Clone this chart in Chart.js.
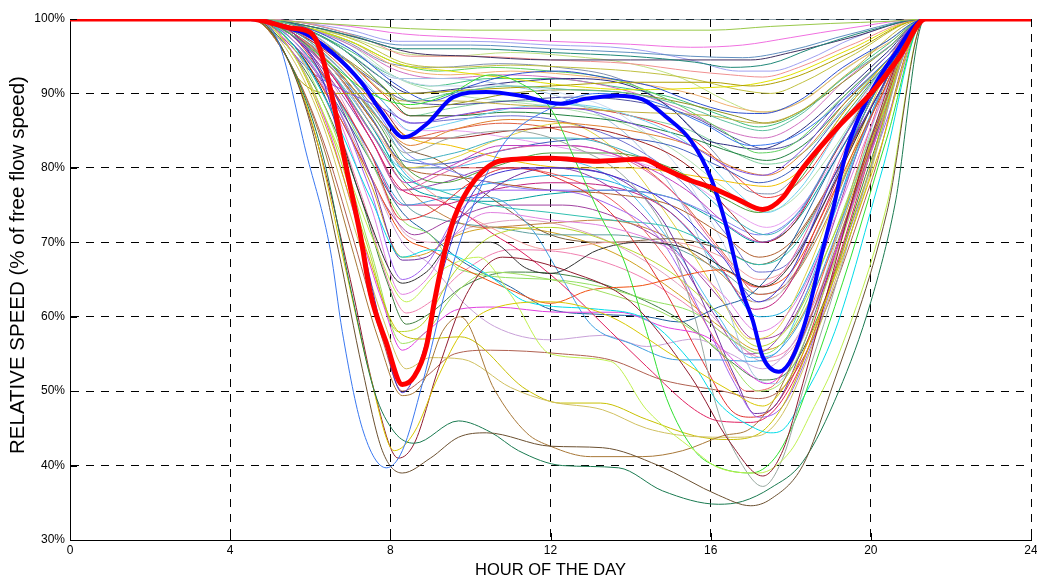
<!DOCTYPE html>
<html><head><meta charset="utf-8">
<script src="https://cdn.jsdelivr.net/npm/chart.js@4.4.1/dist/chart.umd.min.js"></script>
<style>html,body{margin:0;padding:0;background:#fff}#wrap{width:1037px;height:581px;position:relative}</style>
</head><body><div id="wrap"><canvas id="c"></canvas></div>
<script>
// ---- tick labels ----
const xTickValues = [0, 4, 8, 12, 16, 20, 24];
const yTickValues = [30, 40, 50, 60, 70, 80, 90, 100];
const xTitle = 'HOUR OF THE DAY';
const yTitle = 'RELATIVE SPEED (% of free flow speed)';

// ---- thick average series [hour, % of free flow speed] ----
const redSeries = [[0,100],[4.5,100],[5.5,98.8],[6,98.2],[6.25,95.8],[6.57,89],[6.9,80],[7.25,71],[7.5,63.2],[7.9,56.5],[8.3,50.9],[8.6,52],[8.9,56],[9.1,62],[9.35,68.5],[9.6,73.3],[10.1,78.3],[10.8,81],[12,81.3],[13.2,80.9],[14.3,81.2],[14.8,80],[15.5,78.3],[16,77.4],[16.7,75.7],[17.3,74.4],[17.8,76],[18.25,79.6],[19.2,85.6],[20,90],[20.7,94.8],[21.37,100],[24,100]];
const blueSeries = [[0,100],[4.5,100],[5.5,98.7],[5.85,98.1],[6.5,95.7],[7.3,91.3],[7.75,87.7],[8.33,84.1],[8.93,86],[9.57,89.5],[10.4,90.2],[11.25,89.7],[12.25,88.6],[12.9,89.3],[13.65,89.7],[14.3,89.2],[14.9,86.8],[15.5,83.7],[16,78.7],[16.4,72],[16.8,63.2],[17.05,59.5],[17.3,54.6],[17.7,52.6],[18.05,54.6],[18.4,60],[18.8,69],[19.06,74.5],[19.4,82.4],[19.9,89.1],[20.55,94.9],[21.37,100],[24,100]];
const flatSeries = [[0,100],[24,100]];

// ---- individual links (thin lines) ----
const thinColors = ['#3a78f0','#6b5030','#1a7a50','#d8c800','#901c30','#c0f050','#98a8a0','#30e030','#00dce8','#a87838',
  '#4030d0','#d0c060','#c8c000','#e040e0','#a0e060','#b8d830','#303030','#e080e0','#a060f0','#7030a0',
  '#e03030','#e02060','#40a0e0','#c8a0d8','#b06050','#f05010','#90e060','#2060a0','#f0a0a0','#60c0a0',
  '#98c848','#f070e0','#208878','#403060','#f09090','#b0a000','#8050e0','#3050d0','#e0e000','#c0b040',
  '#e08030','#40b0c0','#c040c0','#70d0f0','#50a040','#a02020','#8080f0','#e060a0','#208040','#f0c000',
  '#4060c0','#60d060','#b06030','#c8d8f0','#a0c0e0','#30c0b0','#f04040','#909020','#e8a0f0','#806040',
  '#00a0a0','#c02080','#2c2c80','#e0d040','#50c0f0','#f06060','#9040b0',
  '#6090c0','#c0c040','#d070c0','#40c080','#a0a0f0','#f0b070','#5050a0','#80d0a0','#e06040','#7070d0',
  '#b0e0b0','#c08040','#20b0e0','#a040a0','#60a0a0','#d0a020','#e0a0c0','#408040','#f080b0','#8090b0','#c0e080'];
const thinSeries = [
  [[4.5,100],[5.2,97],[5.9,82],[6.5,69],[6.8,58],[7.3,45],[7.9,39.7],[8.3,42],[8.8,51],[9.4,64],[10,74],[10.8,83],[12,88],[13.2,90],[14.5,89],[15.8,86],[17,83],[18,84],[19.3,89],[20.5,95],[21.35,100]],
  [[4.5,100],[5.3,96],[6,86],[6.7,69],[7.3,53],[7.8,42],[8.3,39],[9,41],[9.7,43.8],[10.4,44.4],[12,42.6],[13.3,42.4],[14.7,40],[16.2,36],[17,34.6],[17.5,35.5],[18.3,40],[19,50],[20.4,74],[21.35,100]],
  [[4.6,100],[5.5,94],[6.3,82],[7,64],[7.6,50],[8.1,44.5],[8.6,43],[9.7,46],[10.5,44.5],[11.2,42],[12.3,40],[13.7,39.7],[14.8,36.6],[16.2,34.8],[16.8,35.2],[17.5,37],[18.3,40.5],[19.2,50],[20,62],[20.6,75],[21.35,100]],
  [[4.5,100],[5.3,96],[6.1,85],[6.9,66],[7.5,52],[8.1,42],[8.6,44.5],[9.2,52],[9.8,58],[10.5,61],[12,62],[13.5,60],[15,55],[16.5,50],[17.3,48],[18,52],[19,64],[20.2,82],[21.35,100]],
  [[4.5,100],[5.4,95],[6.2,83],[7,65],[7.6,50],[8.2,41],[8.6,43],[9.2,53],[9.9,63],[10.8,68],[12.5,66],[14,62],[15.5,52],[16.5,43],[17.3,38.6],[17.8,42],[18.3,51],[19,65],[20,84],[21.35,100]],
  [[4.6,100],[5.6,95],[6.6,84],[7.6,70],[8.4,62],[9.2,66],[10.2,68],[11,63],[12,55],[13.5,54],[14.4,47.5],[15.6,42],[16.2,39.7],[17.2,39],[18,42],[18.5,47],[19.2,55],[20.4,75],[21.35,100]],
  [[4.7,100],[6,96],[7.5,88],[8.4,82],[9.5,84],[11,85],[12.5,83],[14,78],[15,70],[15.6,60],[16.2,47],[16.8,40],[17.3,37.2],[17.8,41],[18.3,50],[19,62],[20,80],[21.35,100]],
  [[4.6,100],[5.5,98],[6.5,94],[7.5,90],[8.5,88.5],[9.5,90],[10.5,92.5],[11.2,91.5],[12,88],[12.7,80],[13.3,73],[13.8,68],[14.4,58],[14.9,49],[15.6,42],[16.1,40],[17,39],[17.6,41],[18.1,46],[18.7,55],[19.5,68],[20.4,84],[21.35,100]],
  [[4.6,100],[5.5,97],[6.5,88],[7.5,76],[8.3,68],[9,69],[9.7,68],[10.6,65],[11.4,62],[13.2,61],[14.4,59.6],[15.6,53.3],[16.2,48.4],[17,45.3],[17.5,44.4],[17.8,44.8],[18.3,49],[19.1,58],[20.3,80],[21.35,100]],
  [[4.5,100],[5.4,95],[6.2,85],[7,70],[7.7,57],[8.3,49.4],[8.8,51],[9.3,58],[9.75,60],[10.6,50.2],[11.4,44.4],[12,42.6],[13,41.2],[14.3,41.2],[15.3,42],[16.3,44],[17,45],[17.6,49],[18.5,60],[19.7,78],[21.35,100]],
  [[4.5,100],[5.5,98],[6.3,92],[6.8,82],[7.3,70],[7.8,58],[8.3,49.8],[8.8,55],[9.3,66],[9.8,74],[10.5,79],[12,80],[13.5,79],[15,75],[16.3,68],[17.2,62],[18,66],[19,78],[20.2,90],[21.35,100]],
  [[4.5,100],[5.4,96],[6.3,86],[7.1,72],[7.8,60],[8.4,53],[9,54.5],[9.8,54.3],[11,50.5],[12,48.6],[13.3,47.5],[14.4,45],[15.6,43.9],[16.5,43.8],[17.2,44],[17.8,47],[18.6,57],[19.8,76],[21.35,100]],
  [[4.6,100],[5.6,95],[6.5,84],[7.4,69],[8.2,58],[8.8,57],[9.75,57.3],[11.4,50.2],[12.25,48.4],[13.25,48.4],[14.4,46.2],[15.6,44],[16.4,43.5],[17.1,44],[17.8,48],[18.6,58],[19.8,77],[21.35,100]],
  [[4.5,100],[5.5,96],[6.4,86],[7.2,72],[7.8,62],[8.3,55.5],[8.9,58],[9.7,61],[10.6,61.3],[12.2,60.6],[13.7,60.6],[14.8,58.7],[16,57],[16.8,53],[17.4,51],[18,54],[19,67],[20.2,85],[21.35,100]],
  [[4.6,100],[5.6,96],[6.6,85],[7.5,69],[8.3,56.4],[8.9,58],[9.6,63],[10.5,66],[12,65],[13.5,63],[15,60],[16.3,55],[17.2,50],[17.9,52],[18.8,63],[20,82],[21.35,100]],
  [[4.5,100],[5.5,96],[6.5,85],[7.4,70],[8.2,58],[8.8,59],[9.6,66],[10.6,71],[12,72],[13.5,70],[15,66],[16.3,60],[17.2,56],[18,59],[19,70],[20.2,86],[21.35,100]],
  [[4.5,100],[5.5,97],[6.5,88],[7.4,74],[8.3,64.5],[8.9,66],[9.6,70],[10.5,70],[11.4,66.5],[12,65.8],[13.2,69],[14.2,70],[15.5,69],[16.5,66],[17.3,64],[18,67],[19,77],[20.2,90],[21.35,100]],
  [[4.6,100],[5.6,97],[6.6,88],[7.5,75],[8.3,63],[8.9,65],[9.6,71],[10.5,74],[12,73],[13.5,72],[15,69],[16.3,63],[17.2,58],[18,61],[19,72],[20.2,88],[21.35,100]],
  [[4.5,100],[5.5,97],[6.6,89],[7.5,77],[8.3,65],[8.9,67],[9.7,74],[10.6,77],[12,77],[13.5,75],[14.8,70],[15.8,60],[16.6,51],[17.2,46.5],[17.8,48],[18.5,56],[19.5,72],[20.5,88],[21.35,100]],
  [[4.6,100],[5.6,98],[6.6,90],[7.5,79],[8.3,67.6],[8.9,68],[9.7,73],[10.8,78],[12,80],[13.5,79],[14.8,73],[15.8,62],[16.6,52],[17.1,47],[17.6,48],[18.3,56],[19.2,70],[20.3,87],[21.35,100]],
  [[4.5,100],[5.5,98],[6.5,91],[7.5,82],[8.3,73],[9,74],[10,78],[11,80],[12,79],[13.5,74],[14.8,64],[15.8,54],[16.5,47.5],[17,46.5],[17.6,48],[18.3,55],[19.2,70],[20.3,88],[21.35,100]],
  [[4.6,100],[5.6,98],[6.6,92],[7.5,84],[8.3,77],[9,76],[9.8,74],[10.6,71],[11.2,69],[12.25,64.5],[13.5,58],[14.4,53.3],[15.6,47.5],[16.2,46],[17,45.8],[17.6,47.5],[18.3,54],[19.2,68],[20.3,87],[21.35,100]],
  [[4.6,100],[5.6,97],[6.6,90],[7.5,82],[8.4,75],[9.5,76],[10.5,76],[11.5,72],[12.2,66],[13,59],[14,56.4],[15.2,54.2],[16.2,54.2],[17,54],[17.6,55],[18.3,60],[19.2,72],[20.3,88],[21.35,100]],
  [[4.6,100],[5.6,97],[6.6,89],[7.5,79],[8.3,70],[9,67],[9.75,62.3],[10.6,58.7],[12,56.9],[13.3,57.5],[14.4,56],[15.6,57],[16.5,55],[17.3,53],[18,56],[19,67],[20.2,85],[21.35,100]],
  [[4.5,100],[5.4,95],[6.3,84],[7.1,70],[7.8,57],[8.3,50],[8.9,52],[9.6,55],[10.5,55.5],[12.3,55],[13.5,54.2],[14.8,51.5],[16.3,50],[17.2,49],[17.9,51],[18.8,60],[20,78],[21.35,100]],
  [[4.5,100],[5.5,97],[6.5,89],[7.5,79],[8.3,71],[9,69],[9.75,66.7],[11,63.6],[12,61.8],[13,63.6],[14.3,64.2],[15.2,65.4],[16.25,66.3],[17.2,64],[18,66],[19,76],[20.2,89],[21.35,100]],
  [[4.6,100],[5.6,97],[6.6,90],[7.5,81],[8.3,73],[9,71],[9.75,66.3],[12,65],[13.3,64],[14.4,62.3],[15.6,60.5],[16.5,57],[17.3,55],[18,58],[19,70],[20.2,87],[21.35,100]],
  [[4.5,100],[5.5,97],[6.5,90],[7.5,81],[8.3,74],[9,71],[9.75,67.6],[11,64],[12,61],[13.3,60.3],[14.4,60],[15.2,59.3],[16.2,61.3],[17,63],[17.8,68],[19,80],[20.2,91],[21.35,100]],
  [[4.6,100],[5.6,98],[6.6,93],[7.5,86],[8.3,80],[9.2,76],[10.5,72],[12,69],[13.5,70],[15,70],[16.3,68],[17.2,65],[18,67],[19,77],[20.2,90],[21.35,100]],
  [[4.6,100],[5.7,99],[6.8,96],[7.8,92],[8.5,89],[9.5,90],[11,91],[12.5,90.5],[14,90],[15.5,88],[16.5,86],[17.3,85],[18.2,87],[19.3,92],[20.4,96],[21.35,100]],
  [[4.5,100],[6,99.5],[7.5,99],[8.5,98.7],[10,98.5],[12,98.5],[14,98.5],[16,98.5],[17.5,99],[19,99.4],[20.5,99.7],[21.35,100]],
  [[4.6,100],[6,99.5],[7,99],[8.3,98],[10,97.5],[12,97],[14,96.6],[15.5,96.2],[16.8,96.5],[18,97.5],[19.5,98.8],[21.35,100]],
  [[4.6,100],[6,99],[7.2,97.5],[8.3,96],[10,96],[12,95.5],[14,95],[15.6,94.2],[16.5,93.5],[17.5,94],[18.5,96],[20,98.5],[21.35,100]],
  [[4.6,100],[6,99],[7.5,97],[8.5,95.5],[10,95],[12,94.5],[14,94.5],[16,94.5],[17,94.5],[18,95.5],[19.5,97.5],[21.35,100]],
  [[4.7,100],[6.3,99],[7.5,97],[8.5,95],[10,95],[12,94.5],[14,94],[15.5,93],[16.5,92.5],[17.3,92.2],[18.2,93.5],[19.5,96.5],[21.35,100]],
  [[4.5,100],[5.2,97],[5.7,92],[6.5,90],[7.5,90],[8.5,90],[10,90.5],[12,91],[14,91.5],[16,91.5],[17,91],[18,92],[19.5,95.5],[21.35,100]],
  [[4.5,100],[5.3,97],[6,93],[6.8,90.5],[7.8,88],[8.6,86],[9.6,87],[11,88],[12.5,88],[14,86],[15.5,83],[16.5,80],[17.3,79],[18.2,82],[19.3,89],[20.4,95],[21.35,100]],
  [[4.6,100],[5.8,99],[7,96],[8.2,91],[9,89],[10,91],[11,92.5],[12.2,93],[13.5,92],[14.5,91],[15.5,89],[16.5,87.5],[17.3,87.3],[18.2,89],[19.3,93.5],[20.4,97],[21.35,100]],
  [[4.6,100],[5.8,99],[7,97],[8.2,94],[9.5,93],[11,92],[12.5,91],[14,90.5],[16,90.8],[17,91.2],[18,92.5],[19.5,96],[21.35,100]],
  [[4.6,100],[5.8,98],[7,94],[8.3,89],[9.5,89],[11,88.5],[12.5,88],[14,87.5],[16,87],[17.2,86],[18.2,87.5],[19.5,93],[21.35,100]],
  [[4.5,100],[5.6,98],[6.7,93],[7.8,86],[8.5,83],[9.5,85],[11,86.5],[12.5,86],[14,85],[15.5,83],[16.6,80],[17.4,79],[18.3,82],[19.4,89],[20.5,95],[21.35,100]],
  [[4.6,100],[5.7,98],[6.8,93],[7.8,86],[8.5,81],[9.6,82],[11,84],[12.5,84],[14,82],[15.5,78],[16.6,73],[17.4,71],[18.2,74],[19.3,84],[20.4,93],[21.35,100]],
  [[4.5,100],[5.5,98],[6.6,92],[7.6,84],[8.4,78],[9.4,80],[10.8,83],[12.5,83],[14,81],[15.4,77],[16.5,72],[17.3,70],[18.1,73],[19.2,83],[20.4,93],[21.35,100]],
  [[4.6,100],[5.7,99],[6.8,95],[7.8,89],[8.5,85],[9.5,86],[11,88],[12.5,88.5],[14,87],[15.5,83],[16.6,77],[17.4,74],[18.2,77],[19.3,86],[20.4,94],[21.35,100]],
  [[4.5,100],[5.6,98],[6.7,93],[7.7,86],[8.4,80],[9.3,78],[10.5,80],[12,82],[13.5,82],[15,80],[16.3,76],[17.2,74],[18,77],[19.2,86],[20.4,94],[21.35,100]],
  [[4.6,100],[5.7,98],[6.8,94],[7.8,88],[8.5,84],[9.5,84],[11,85],[12.5,85.5],[14,84],[15.5,80],[16.5,74],[17.3,70],[18,72],[19,81],[20.2,92],[21.35,100]],
  [[4.6,100],[5.6,98],[6.6,94],[7.6,88],[8.4,82],[9.3,80],[10.5,78],[12,77],[13.5,77],[15,76],[16.3,73],[17.2,71],[18.1,73.5],[19.2,83],[20.4,93],[21.35,100]],
  [[4.5,100],[5.5,98],[6.5,93],[7.5,84],[8.3,77],[9.2,79],[10.5,82],[12,83],[13.5,82],[15,77],[16.2,69],[17.1,64],[17.8,66],[18.8,76],[20,90],[21.35,100]],
  [[4.6,100],[5.7,99],[6.8,96],[7.8,91],[8.5,87],[9.6,87],[11,87.5],[12.5,87],[14,86],[15.5,84],[16.6,82],[17.4,81],[18.3,83],[19.4,89],[20.5,95],[21.35,100]],
  [[4.6,100],[5.7,98],[6.8,93],[7.8,87],[8.5,84],[9.5,83],[11,81],[12.5,80],[14,80],[15.5,79],[16.6,78],[17.4,77.5],[18.3,80],[19.4,88],[20.5,95],[21.35,100]],
  [[4.5,100],[5.5,98],[6.5,94],[7.5,87],[8.3,81],[9.2,80.5],[10.5,82],[12,83.5],[13.5,84],[15,83],[16.3,80],[17.2,78],[18.1,80],[19.2,87],[20.4,94],[21.35,100]],
  [[4.6,100],[5.8,99],[7,97],[8.2,94],[9.2,93],[10.5,93.5],[12,93],[13.5,92],[15,89],[16.3,85],[17.2,82],[18,83],[19.2,89],[20.4,95],[21.35,100]],
  [[4.5,100],[5.6,98],[6.6,93],[7.6,86],[8.4,80],[9.4,79],[10.6,78],[12,77],[13.5,76.5],[15,75],[16.3,71],[17.2,68],[18,70],[19.1,79],[20.3,91],[21.35,100]],
  [[4.6,100],[5.8,99],[7,96],[8.2,92],[9.3,91],[10.8,91],[12.3,90],[13.8,87],[15.2,80],[16.3,70],[17.1,62],[17.7,63],[18.5,72],[19.5,86],[20.5,95],[21.35,100]],
  [[4.6,100],[5.8,99],[7,96],[8.2,92],[9.5,92],[11,91],[12.5,89],[14,84],[15.3,75],[16.3,63],[17.1,52],[17.6,51],[18.3,57],[19.3,73],[20.4,91],[21.35,100]],
  [[4.5,100],[5.5,98],[6.5,93],[7.5,85],[8.3,79],[9.2,77],[10.5,75],[12,74],[13.5,73],[15,72],[16.3,69],[17.2,67],[18,69],[19,78],[20.2,91],[21.35,100]],
  [[4.6,100],[5.7,99],[6.8,95],[7.8,90],[8.5,87],[9.5,87],[11,88],[12.5,88],[14,87],[15.5,84],[16.6,79],[17.4,76],[18.2,78],[19.3,86],[20.4,94],[21.35,100]],
  [[4.6,100],[5.7,98.5],[6.8,95],[7.8,91],[8.5,88],[9.5,88.5],[11,90],[12.5,90.5],[14,90],[15.5,88.5],[16.6,87],[17.4,86],[18.2,87.5],[19.3,91.5],[20.4,96],[21.35,100]],
  [[4.6,100],[5.7,98],[6.8,94],[7.8,88],[8.5,85],[9.5,85],[11,84],[12.5,82.5],[14,81],[15.5,78],[16.6,74],[17.4,72],[18.2,74.5],[19.3,83],[20.4,93],[21.35,100]],
  [[4.5,100],[5.5,98],[6.5,94],[7.5,88],[8.3,83],[9.2,81],[10.5,76],[12,71],[13.5,70],[15,70.5],[16.3,69],[17.2,67],[18,69.5],[19.2,80],[20.4,92],[21.35,100]],
  [[4.6,100],[5.6,98],[6.6,93],[7.6,85],[8.4,78],[9.3,76],[10.6,75.5],[12,76.5],[13.5,77],[15,76],[16.3,72.5],[17.2,70],[18,72],[19.1,81],[20.3,92],[21.35,100]],
  [[4.5,100],[5.5,97.5],[6.5,91],[7.5,82],[8.3,75],[9.2,75],[10.5,77],[12,78],[13.5,77.5],[15,74],[16.2,67],[17.1,61],[17.8,63],[18.8,74],[20,89],[21.35,100]],
  [[4.6,100],[5.7,99],[6.8,96],[7.8,92],[8.5,90],[9.5,90.5],[11,91.5],[12.5,92],[14,91],[15,88],[15.8,84],[16.5,83],[17.2,82.5],[18.1,84.5],[19.3,90],[20.4,95.5],[21.35,100]],
  [[4.6,100],[5.6,98],[6.6,93],[7.6,86],[8.4,80],[9.4,81],[10.8,84],[12.3,86],[13.7,82],[15,73],[16.2,63],[17,57],[17.6,58],[18.4,66],[19.4,80],[20.4,93],[21.35,100]],
  [[4.5,100],[5.5,98],[6.5,93],[7.5,86],[8.3,80],[9.3,80],[10.7,81],[12.2,81],[13.7,78],[15,70],[16.2,60],[17,54.5],[17.6,55],[18.3,62],[19.3,77],[20.4,92],[21.35,100]],
  [[4.6,100],[5.6,98],[6.6,93],[7.6,86],[8.4,80],[9.4,80],[10.7,80],[12.2,79],[13.7,75],[15,67],[16.1,57],[16.9,50],[17.5,50.5],[18.2,57],[19.2,72],[20.3,90],[21.35,100]],
  [[4.5,100],[5.5,98],[6.5,92],[7.5,84],[8.3,77],[9.3,78],[10.6,80],[12.1,80],[13.6,77],[14.9,70],[16,61],[16.9,55],[17.5,56],[18.3,63],[19.3,77],[20.4,92],[21.35,100]],
  [[4.6,100],[5.8,99.5],[7,98],[8.3,96.5],[10,96.5],[12,96],[14,95.5],[15.5,95],[16.8,94.8],[18,95.8],[19.5,98],[21.35,100]],
  [[4.7,100],[6,99],[7.2,97],[8.4,94],[9.6,93.5],[11,93.8],[12.5,93.5],[14,93],[15.5,92],[16.7,90.5],[17.5,90],[18.3,91.5],[19.5,95],[21.35,100]],
  [[4.6,100],[5.8,99],[7,96.5],[8.2,93],[9.3,92],[10.8,92.5],[12.3,92],[13.8,90.5],[15.2,88],[16.4,85],[17.3,84],[18.2,86],[19.4,92],[20.5,96.5],[21.35,100]],
  [[4.5,100],[5.7,99],[6.9,96],[8,92.5],[9,91],[10.5,92],[12,92],[13.5,91],[15,89.5],[16.3,87],[17.2,85.5],[18.1,87],[19.3,92],[20.4,96.5],[21.35,100]],
  [[4.6,100],[5.8,99.5],[7,98.5],[8.2,97],[10,97],[12,96.5],[14,96],[15.5,94.5],[16.7,93],[17.5,93],[18.4,94.5],[19.6,97.5],[21.35,100]],
  [[4.6,100],[5.8,99],[7,97],[8.2,93.5],[9.5,92.5],[11,93],[12.5,92.5],[14,91.5],[15.5,90],[16.7,88],[17.4,87.5],[18.3,89],[19.4,93.5],[20.5,97],[21.35,100]],
  [[4.5,100],[5.5,99],[6.5,96],[7.5,92],[8.4,89],[9.5,88.5],[11,89],[12.5,89.5],[14,89],[15.5,87],[16.6,84],[17.4,82.5],[18.3,84],[19.4,90],[20.5,95.5],[21.35,100]],
  [[4.6,100],[5.7,98.5],[6.8,95],[7.8,90],[8.5,87],[9.5,88],[11,89],[12.5,88.5],[14,87],[15.5,85],[16.6,82],[17.4,80.5],[18.3,82],[19.4,88.5],[20.5,95],[21.35,100]],
  [[4.5,100],[5.6,98.5],[6.7,94],[7.7,88],[8.4,84],[9.4,85],[10.8,86],[12.3,85],[13.8,82],[15.2,76],[16.4,68],[17.2,63],[17.9,64.5],[18.8,73],[19.9,88],[21.35,100]],
  [[4.6,100],[5.7,98.5],[6.7,95],[7.7,89.5],[8.5,86],[9.6,86.5],[11,87],[12.5,86],[14,83],[15.3,78],[16.4,71],[17.2,66],[17.9,67],[18.8,75],[19.9,88],[21.35,100]],
  [[4.6,100],[5.8,99],[7,96.5],[8.2,92],[9.4,90],[10.8,89],[12.3,88],[13.8,86],[15.2,82],[16.4,77],[17.2,74],[18,75.5],[19,82],[20.2,92],[21.35,100]],
  [[4.5,100],[5.5,98],[6.5,93],[7.5,85],[8.3,78],[9.2,74],[10.3,72],[11.8,72.5],[13.3,73],[14.8,71],[16.2,66],[17.1,62],[17.8,63.5],[18.8,72],[20,87],[21.35,100]],
  [[4.6,100],[5.6,98],[6.6,93],[7.6,86],[8.4,79],[9.3,77],[10.6,78],[12.1,79],[13.6,78],[15,74],[16.3,66],[17.2,60],[17.9,61],[18.8,70],[19.9,86],[21.35,100]],
  [[4.5,100],[5.4,97],[6.3,91],[7.2,82],[8,74],[8.6,71],[9.5,73],[10.8,75],[12.3,75],[13.8,73],[15.1,69],[16.3,62],[17.1,57],[17.8,58],[18.7,67],[19.8,84],[21.35,100]],
  [[4.6,100],[5.6,98],[6.6,92],[7.6,83],[8.4,75],[9.3,73],[10.6,72],[12,71],[13.5,71],[15,69.5],[16.3,66],[17.2,63],[18,65],[19,75],[20.2,89],[21.35,100]],
  [[4.5,100],[5.5,97],[6.5,90],[7.5,78],[8.3,68],[8.9,68.5],[9.7,71],[10.8,72],[12.3,71],[13.8,68],[15.2,63],[16.4,58],[17.2,55.5],[17.9,57],[18.8,66],[20,83],[21.35,100]],
  [[4.6,100],[5.6,97.5],[6.6,91],[7.6,80],[8.4,71],[9.1,70],[10,72],[11.3,73],[12.8,71.5],[14.2,68],[15.5,63],[16.6,57],[17.3,54],[18,55.5],[18.9,65],[20,83],[21.35,100]],
  [[4.5,100],[5.4,96.5],[6.3,89],[7.2,77],[7.9,65],[8.4,59],[9,60.5],[9.8,64],[11,66],[12.5,65.5],[14,63],[15.4,59],[16.5,54],[17.3,51.5],[18,53],[18.9,63],[20,81],[21.35,100]],
  [[4.6,100],[5.5,96.5],[6.4,89],[7.3,76],[8,64],[8.4,60.5],[9,62],[9.8,66],[11,69],[12.5,68.5],[14,66],[15.3,62],[16.5,57],[17.3,54.5],[18,56],[18.9,65],[20,82],[21.35,100]],
  [[4.6,100],[5.8,99],[6.9,97],[8,94],[9.2,93.5],[10.7,94],[12.2,93.5],[13.7,92],[15,88],[16.1,82],[16.9,77],[17.5,76.5],[18.3,80],[19.4,88],[20.5,95],[21.35,100]],
  [[4.6,100],[5.8,99],[7,97.5],[8.2,95.5],[9.5,95],[11,95.5],[12.5,95],[14,94],[15.3,92],[16.4,89],[17.2,87.5],[18.1,88.5],[19.3,93],[20.4,97],[21.35,100]]
];

// ---- build datasets through the library ----
const toXY = pts => pts.map(p => ({x: p[0], y: p[1]}));
const datasets = [];
datasets.push({data: toXY(redSeries), borderColor: '#ff0000', borderWidth: 5});
datasets.push({data: toXY(blueSeries), borderColor: '#0000ff', borderWidth: 4});
thinSeries.forEach((s, i) => {
  datasets.push({data: toXY([[0,100], ...s, [24,100]]), borderColor: thinColors[i % thinColors.length], borderWidth: 1});
});
datasets.push({data: toXY(flatSeries), borderColor: '#2f4f5f', borderWidth: 1});

const FONT = "'Liberation Sans', Arial, Helvetica, sans-serif";

const innerTicks = {
  id: 'innerTicks',
  afterDraw(chart) {
    const {ctx, chartArea: a, scales: {x, y}} = chart;
    ctx.save();
    ctx.strokeStyle = '#000'; ctx.lineWidth = 1;
    ctx.beginPath();
    x.ticks.forEach(t => { const px = Math.round(x.getPixelForValue(t.value)) + 0.5; ctx.moveTo(px, a.bottom); ctx.lineTo(px, a.bottom - 7); });
    y.ticks.forEach(t => { const py = Math.round(y.getPixelForValue(t.value)) + 0.5; ctx.moveTo(a.left, py); ctx.lineTo(a.left + 7, py); });
    ctx.stroke();
    // y axis title, placed like the reference
    ctx.fillStyle = '#000';
    ctx.font = '20.5px ' + FONT;
    ctx.textAlign = 'center'; ctx.textBaseline = 'middle';
    ctx.translate(18, 265);
    ctx.rotate(-Math.PI / 2);
    ctx.fillText(yTitle, 0, 0);
    ctx.restore();
  }
};

new Chart(document.getElementById('c'), {
  type: 'line',
  data: {datasets},
  plugins: [innerTicks],
  options: {
    responsive: true, maintainAspectRatio: false, animation: false, devicePixelRatio: 1,
    layout: {padding: {top: 19, right: 6, left: 0, bottom: 0}},
    elements: {point: {radius: 0, hoverRadius: 0}, line: {cubicInterpolationMode: 'monotone', fill: false}},
    plugins: {legend: {display: false}, tooltip: {enabled: false}},
    events: [],
    scales: {
      x: {
        type: 'linear', min: 0, max: 24, z: 1,
        afterBuildTicks: s => { s.ticks = xTickValues.map(v => ({value: v})); },
        afterFit: s => { s.height = 41; s.paddingLeft = 0; s.paddingRight = 0; },
        ticks: {color: '#000', font: {family: FONT, size: 12}, padding: 3, maxRotation: 0, autoSkip: false},
        grid: {color: '#000', lineWidth: 1, drawTicks: false},
        border: {display: true, color: '#000', width: 1, dash: [8, 7]},
        title: {display: true, text: xTitle, color: '#000', font: {family: FONT, size: 16.5}, padding: {top: 0, bottom: 1}}
      },
      y: {
        type: 'linear', min: 30, max: 100, z: 1,
        afterBuildTicks: s => { s.ticks = yTickValues.map(v => ({value: v})); },
        afterFit: s => { s.width = 70; },
        ticks: {color: '#000', font: {family: FONT, size: 12}, padding: 5, callback: v => v + '%'},
        grid: {color: '#000', lineWidth: 1, drawTicks: false},
        border: {display: true, color: '#000', width: 1, dash: [8, 7]},
        title: {display: false}
      }
    }
  }
});
</script></body></html>
